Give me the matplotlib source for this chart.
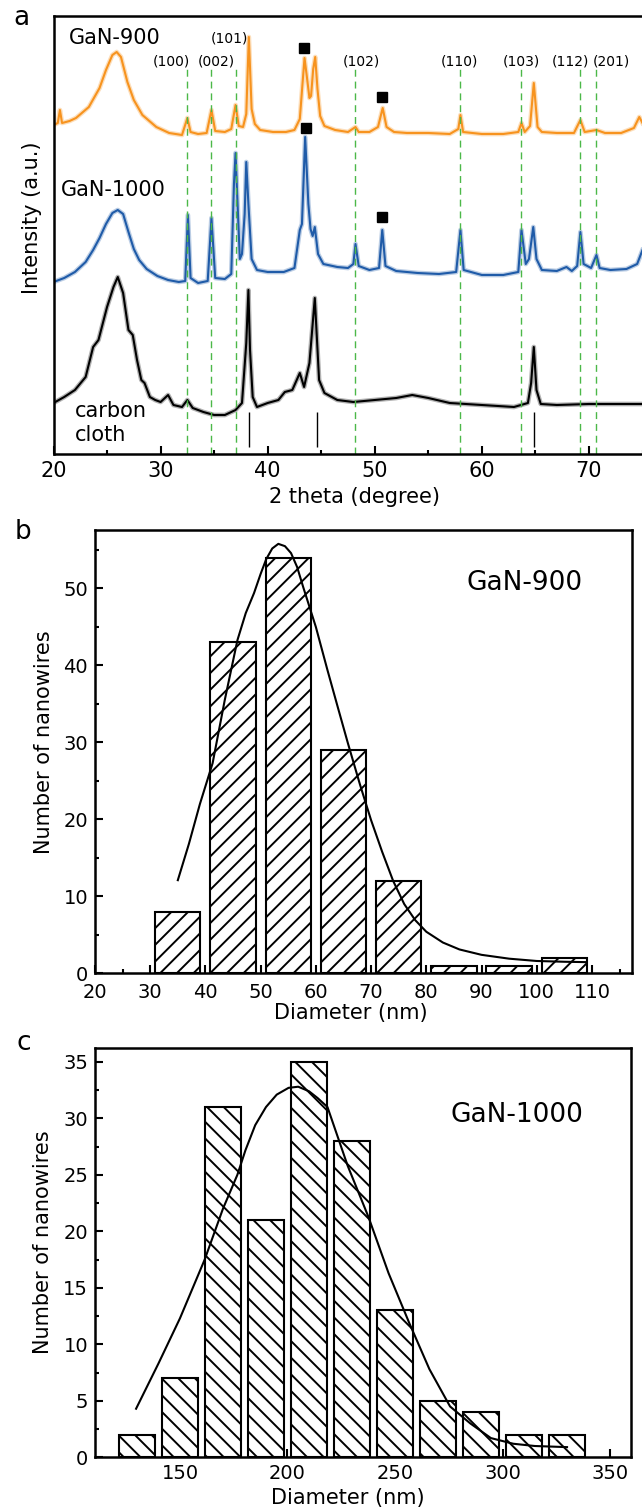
import matplotlib
matplotlib.use('Agg')
import matplotlib.pyplot as plt
from matplotlib.ticker import MultipleLocator

plt.rcParams['font.family'] = ['DejaVu Sans']
plt.rcParams['hatch.linewidth'] = 1.4

# XRD patterns, intensity in arbitrary (stacked) units
tt_900 = [20.0, 20.4, 20.6, 20.8, 21.5, 22.1, 23.3, 24.3, 24.9, 25.5, 25.9, 26.3, 26.9, 27.5,
          28.3, 29.6, 30.8, 32.0, 32.5, 32.8, 33.5, 34.3, 34.75, 35.1, 36.0, 36.6, 37.0, 37.3,
          37.7, 38.0, 38.24, 38.5, 38.8, 39.3, 40.5, 41.7, 42.5, 43.0, 43.25, 43.44, 43.65,
          43.9, 44.05, 44.25, 44.44, 44.65, 44.9, 45.3, 46.3, 47.5, 48.2, 48.5, 49.5, 50.3,
          50.74, 51.1, 51.8, 53.0, 55.0, 57.0, 57.8, 58.0, 58.25, 60.0, 62.0, 63.4, 63.7, 64.0,
          64.5, 64.85, 65.2, 65.6, 67.0, 68.6, 69.2, 69.6, 70.7, 71.5, 73.0, 74.2, 74.7, 75.0]
int_900 = [329, 331, 344, 331, 333, 336, 347, 366, 384, 399, 402, 397, 372, 354,
           339, 327, 321, 319, 336, 322, 320, 321, 344, 323, 322, 325, 349, 328,
           327, 340, 417, 345, 330, 324, 322, 322, 324, 335, 370, 396, 378,
           356, 358, 385, 397, 365, 338, 328, 324, 322, 327, 322, 322, 327,
           346, 327, 322, 321, 321, 320, 325, 339, 322, 320, 320, 322, 331, 322,
           328, 371, 327, 322, 321, 321, 334, 322, 324, 321, 321, 326, 337, 331]

tt_1000 = [20.0, 21.0, 22.0, 23.0, 23.7, 24.3, 24.9, 25.5, 26.0, 26.5, 27.0, 27.5, 28.0, 28.7,
           29.7, 30.7, 31.7, 32.3, 32.55, 32.8, 33.5, 34.4, 34.75, 35.1, 36.0, 36.6, 36.85,
           37.0, 37.15, 37.4, 37.6, 37.85, 38.0, 38.2, 38.5, 39.0, 40.0, 41.5, 42.5, 43.0,
           43.2, 43.5, 43.8, 44.0, 44.2, 44.4, 44.7, 45.2, 46.5, 47.5, 48.0, 48.2, 48.5, 49.5,
           50.4, 50.7, 51.0, 52.0, 54.0, 56.0, 57.6, 58.0, 58.3, 60.0, 62.0, 63.4, 63.7, 64.1,
           64.4, 64.8, 65.1, 65.6, 67.0, 67.9, 68.4, 68.9, 69.2, 69.5, 70.2, 70.7, 71.0, 72.0,
           73.5, 74.5, 75.0]
int_1000 = [172, 176, 182, 192, 204, 216, 230, 241, 244, 240, 222, 205, 194, 185,
            178, 174, 172, 173, 239, 176, 171, 173, 236, 176, 175, 180, 270,
            301, 260, 195, 200, 240, 292, 250, 195, 184, 182, 182, 186, 224,
            230, 317, 250, 225, 218, 227, 200, 190, 187, 186, 190, 210, 188, 184,
            186, 224, 188, 183, 181, 180, 182, 224, 184, 179, 179, 182, 224, 190,
            195, 227, 195, 184, 183, 187, 183, 188, 222, 190, 186, 199, 186, 184,
            185, 190, 204]

tt_cloth = [20.0, 21.0, 22.0, 23.0, 23.7, 24.2, 25.0, 25.6, 26.0, 26.5, 27.0, 27.4, 27.8,
            28.2, 28.5, 29.0, 29.5, 30.0, 30.7, 31.2, 32.0, 32.5, 33.0, 34.0, 35.0, 36.0,
            37.0, 37.6, 38.0, 38.2, 38.35, 38.6, 39.0, 40.0, 41.0, 41.6, 42.3, 43.0, 43.4,
            43.9, 44.4, 44.8, 45.3, 46.5, 48.0, 50.0, 52.0, 53.5, 55.0, 57.0, 60.0, 63.0,
            64.3, 64.6, 64.85, 65.1, 65.5, 67.0, 70.0, 75.0]
int_cloth = [51, 57, 64, 77, 107, 114, 147, 167, 177, 161, 124, 119, 94,
             74, 71, 57, 54, 52, 59, 49, 47, 54, 46, 42, 39, 39,
             44, 51, 111, 164, 104, 57, 47, 51, 54, 62, 64, 81, 67,
             91, 156, 74, 61, 54, 52, 54, 56, 59, 56, 51, 49, 47,
             51, 71, 107, 64, 50, 49, 50, 50]

gan_hkl = ['(100)', '(002)', '(101)', '(102)', '(110)', '(103)', '(112)', '(201)']
gan_pos = [32.5, 34.7, 37.0, 48.2, 58.0, 63.7, 69.2, 70.7]
hkl_label_x = [31.0, 35.2, 36.4, 48.75, 57.9, 63.65, 68.25, 72.1]
cloth_peaks = [38.25, 44.6, 64.9]
square_x = [43.4, 50.7, 43.6, 50.7]
square_y = [406, 357, 326, 237]

# diameter histograms and their fitted distributions
diam_900 = [35, 45, 55, 65, 75, 85, 95, 105]
count_900 = [8, 43, 54, 29, 12, 1, 1, 2]
fit_x_900 = [35, 37, 39, 41.3, 43.5, 45.8, 47.3, 48.8, 50, 51, 52.1, 53.2, 54.4, 55.5, 56.6,
             57.7, 60, 62.1, 64, 65.8, 68, 70, 72, 74, 76, 78, 80, 83, 86, 90, 95, 100, 105, 109]
fit_y_900 = [12.1, 16.8, 22.0, 27.3, 35.5, 43.3, 46.8, 49.4, 51.9, 53.8, 55.2, 55.8, 55.5,
             54.6, 52.8, 50.2, 45.0, 39.4, 34.5, 29.9, 24.5, 19.9, 15.8, 12.0, 9.0, 6.9, 5.4,
             4.0, 3.1, 2.4, 1.9, 1.6, 1.5, 1.45]

diam_1000 = [130, 150, 170, 190, 210, 230, 250, 270, 290, 310, 330]
count_1000 = [2, 7, 31, 21, 35, 28, 13, 5, 4, 2, 2]
fit_x_1000 = [129.6, 140, 150, 161.5, 170, 176.7, 180.5, 185, 190, 195, 200.5, 205, 210,
              214, 218.6, 228, 237.6, 247, 256.6, 266, 275.6, 285, 294.6, 305, 315, 330]
fit_y_1000 = [4.3, 8.3, 12.3, 17.5, 22.0, 25.0, 27.2, 29.4, 31.0, 32.1, 32.7, 32.8, 32.4,
              31.8, 31.0, 25.8, 21.3, 16.3, 11.9, 7.8, 4.5, 3.0, 1.7, 1.2, 1.0, 0.9]

W, H = 642, 1512
fig = plt.figure(figsize=(W / 100, H / 100), dpi=100)


def px_axes(left, top, right, bottom):
    return fig.add_axes([left / W, 1 - bottom / H, (right - left) / W, (bottom - top) / H])


def style_ticks(ax, size):
    ax.tick_params(which='both', direction='in', top=False, right=False, width=1.5)
    ax.tick_params(which='major', length=6, labelsize=size)
    ax.tick_params(which='minor', length=3.2)
    for s in ax.spines.values():
        s.set_linewidth(1.8)


def trace(ax, x, y, color):
    # a soft wide band under each scan to give it the grainy thickness of the raw data
    ax.plot(x, y, color=color, lw=3.4, alpha=0.3, solid_joinstyle='round')
    ax.plot(x, y, color=color, lw=1.5)


# ---- (a) XRD ----
ax = px_axes(53.5, 16, 642.5, 454)
trace(ax, tt_900, int_900, '#f7931e')
trace(ax, tt_1000, int_1000, '#1f5ba8')
trace(ax, tt_cloth, int_cloth, 'black')
ax.vlines(gan_pos, 0, 386, colors='#4cb848', linestyles=(0, (5, 3.5)), lw=1.0)
ax.vlines(cloth_peaks, 7, 42, colors='black', lw=1.0)
ax.plot(square_x, square_y, 's', color='black', ms=7)
for lab, x in zip(gan_hkl, hkl_label_x):
    y = 415 if lab == '(101)' else 392
    ax.text(x, y, lab, fontsize=10, ha='center', va='center')
ax.text(25.75, 416, 'GaN-900', fontsize=15, ha='center', va='center')
ax.text(25.6, 264, 'GaN-1000', fontsize=15, ha='center', va='center')
ax.text(22.0, 31, 'carbon\ncloth', fontsize=15, ha='left', va='center', linespacing=1.3)
ax.set_xlim(20, 75)
ax.set_ylim(0, 438)
ax.set_yticks([])
ax.xaxis.set_major_locator(MultipleLocator(10))
ax.xaxis.set_minor_locator(MultipleLocator(5))
style_ticks(ax, 15)
ax.tick_params(axis='x', which='major', length=6, pad=5)
ax.spines['right'].set_visible(False)
ax.set_xlabel('2 theta (degree)', fontsize=15)
ax.xaxis.set_label_coords(0.511, -0.0975)
ax.xaxis.label.set_va('center')
ax.set_ylabel('Intensity (a.u.)', fontsize=15)
ax.yaxis.set_label_coords(-0.0365, 0.539)
ax.yaxis.label.set_va('center')

# ---- (b) GaN-900 diameters ----
ax = px_axes(95, 530, 631.7, 973.3)
ax.bar(diam_900, count_900, width=8.2, facecolor='white', edgecolor='black',
       hatch='//', lw=1.5, zorder=2)
ax.plot(fit_x_900, fit_y_900, color='black', lw=1.5, zorder=3)
ax.text(97.8, 50.7, 'GaN-900', fontsize=19, ha='center', va='center')
ax.set_xlim(20, 117.2)
ax.set_ylim(0, 57.6)
ax.xaxis.set_major_locator(MultipleLocator(10))
ax.xaxis.set_minor_locator(MultipleLocator(5))
ax.yaxis.set_major_locator(MultipleLocator(10))
ax.yaxis.set_minor_locator(MultipleLocator(5))
style_ticks(ax, 14)
ax.tick_params(axis='x', pad=7)
ax.tick_params(axis='y', pad=5)
ax.set_xlabel('Diameter (nm)', fontsize=15)
ax.xaxis.set_label_coords(0.476, -0.0896)
ax.xaxis.label.set_va('center')
ax.set_ylabel('Number of nanowires', fontsize=15)
ax.yaxis.set_label_coords(-0.095, 0.522)
ax.yaxis.label.set_va('center')

# ---- (c) GaN-1000 diameters ----
ax = px_axes(95, 1048.3, 630.7, 1457.3)
ax.bar(diam_1000, count_1000, width=16.5, facecolor='white', edgecolor='black',
       hatch='\\\\', lw=1.5, zorder=2)
ax.plot(fit_x_1000, fit_y_1000, color='black', lw=1.5, zorder=3)
ax.text(306.7, 30.3, 'GaN-1000', fontsize=19, ha='center', va='center')
ax.set_xlim(110.5, 359.6)
ax.set_ylim(0, 36.2)
ax.xaxis.set_major_locator(MultipleLocator(50))
ax.xaxis.set_minor_locator(MultipleLocator(25))
ax.yaxis.set_major_locator(MultipleLocator(5))
ax.yaxis.set_minor_locator(MultipleLocator(2.5))
style_ticks(ax, 14)
ax.tick_params(axis='x', pad=5)
ax.tick_params(axis='y', pad=5)
ax.set_xlabel('Diameter (nm)', fontsize=15)
ax.xaxis.set_label_coords(0.472, -0.0995)
ax.xaxis.label.set_va('center')
ax.set_ylabel('Number of nanowires', fontsize=15)
ax.yaxis.set_label_coords(-0.097, 0.526)
ax.yaxis.label.set_va('center')

fig.text(13 / W, 1 - 25 / H, 'a', fontsize=19, va='baseline')
fig.text(15 / W, 1 - 539 / H, 'b', fontsize=19, va='baseline')
fig.text(17 / W, 1 - 1050 / H, 'c', fontsize=19, va='baseline')

fig.savefig('out.png', dpi=100)
